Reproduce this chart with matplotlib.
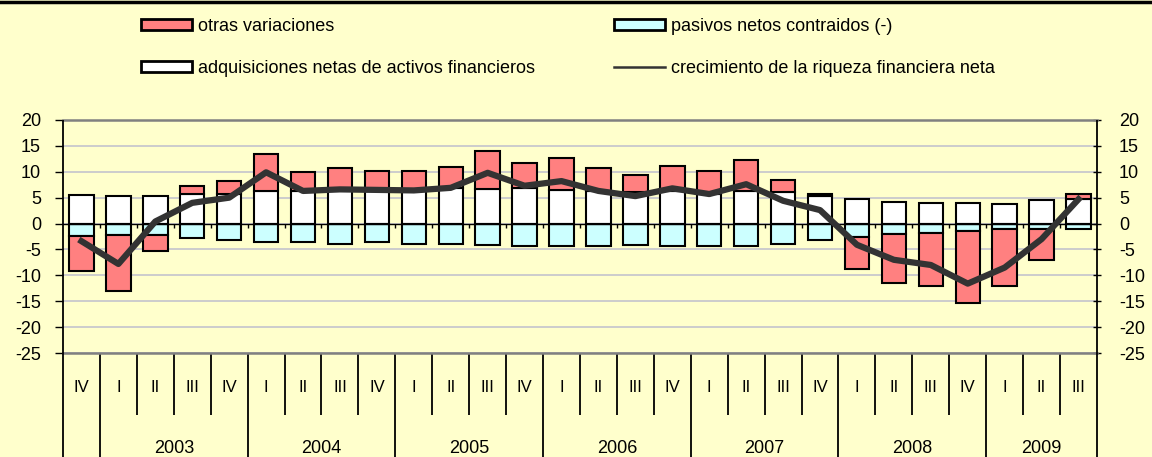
import numpy as np
import matplotlib
matplotlib.use('Agg')
import matplotlib.pyplot as plt
from matplotlib.patches import Patch
from matplotlib.lines import Line2D

plt.rcParams['font.family'] = ['Liberation Sans', 'DejaVu Sans']
plt.rcParams['axes.unicode_minus'] = False

# quarters 2002 IV .. 2009 III
quarters = ['IV'] + ['I', 'II', 'III', 'IV'] * 6 + ['I', 'II', 'III']
years = ['2003', '2004', '2005', '2006', '2007', '2008', '2009']

adquisiciones = [5.6, 5.4, 5.4, 5.8, 5.7, 6.2, 6.2, 6.4, 6.3, 6.3, 6.8, 6.6, 6.8, 6.4,
                 6.2, 6.0, 6.2, 5.8, 6.2, 6.0, 5.3, 4.7, 4.2, 3.9, 3.9, 3.7, 4.5, 4.7]
pasivos = [-2.4, -2.3, -2.3, -2.8, -3.1, -3.6, -3.6, -3.9, -3.6, -3.9, -4.0, -4.2, -4.35, -4.35,
           -4.35, -4.2, -4.35, -4.35, -4.35, -4.0, -3.25, -2.5, -2.1, -1.8, -1.4, -1.0, -1.0, -1.0]
otras = [-6.7, -10.8, -3.0, 1.5, 2.5, 7.3, 3.7, 4.3, 3.9, 3.9, 4.2, 7.4, 4.9, 6.3,
         4.5, 3.4, 5.0, 4.4, 6.0, 2.4, 0.5, -6.3, -9.3, -10.2, -13.9, -11.0, -6.1, 0.95]
crecimiento = [-3.4, -7.8, 0.4, 4.0, 5.0, 9.9, 6.3, 6.6, 6.5, 6.4, 6.9, 9.8, 7.3, 8.2,
               6.3, 5.3, 6.8, 5.7, 7.6, 4.4, 2.6, -4.1, -7.0, -8.0, -11.6, -8.5, -3.0, 4.7]

bg = '#FFFFCC'
red = '#FF8080'
cyan = '#CCFFFF'
dark = '#333333'

x = np.arange(len(quarters))
adq = np.array(adquisiciones)
pas = np.array(pasivos)
otr = np.array(otras)
# red stacks on top of white when positive, below cyan when negative
otr_base = np.where(otr >= 0, adq, pas)

fig = plt.figure(figsize=(11.52, 4.57), dpi=100, facecolor=bg)
ax = fig.add_axes([63/1152, 104/457, 1034/1152, 233/457], facecolor=bg)

bw = 0.66
ax.bar(x, adq, bw, color='white', edgecolor='black', lw=1.5, zorder=3)
ax.bar(x, pas, bw, color=cyan, edgecolor='black', lw=1.5, zorder=3)
ax.bar(x, otr, bw, bottom=otr_base, color=red, edgecolor='black', lw=1.5, zorder=3)
ax.plot(x, crecimiento, color=dark, lw=4.5, zorder=5, solid_joinstyle='round')

ax.set_xlim(-0.5, len(quarters) - 0.5)
ax.set_ylim(-25, 20)
ax.set_yticks(np.arange(-25, 21, 5))
ax.yaxis.grid(True, color='#C4C4CC', lw=1.2)
ax.set_axisbelow(True)
ax.set_xticks([])

ax.axhline(0, color='black', lw=1, zorder=4)
ax.vlines(x[:-1] + 0.5, -0.8, 0, color='black', lw=1, zorder=4)

for s in ['top', 'bottom']:
    ax.spines[s].set_color('#808080')
    ax.spines[s].set_linewidth(1.8)
for s in ['left', 'right']:
    ax.spines[s].set_visible(False)

# left ticks point out, right ticks cross the axis
ax.tick_params(axis='y', which='both', direction='inout', length=5.8, width=1,
               labelsize=13, pad=13, right=True, labelright=True, labelleft=True)
for t in ax.yaxis.get_major_ticks():
    t.tick1line.set_marker(matplotlib.lines.TICKLEFT)

# category separators below the plot area
tr = ax.get_xaxis_transform()
bounds = np.arange(len(quarters) + 1) - 0.5
edges = [bounds[0], bounds[-1]]
year_bounds = [b for b in bounds[1:-1] if quarters[int(b + 0.5)] == 'I']
quarter_bounds = [b for b in bounds[1:-1] if b not in year_bounds]
ax.vlines(edges, -0.45, 1, transform=tr, color='black', lw=1.3, clip_on=False, zorder=6)
ax.vlines(year_bounds, -0.45, 0, transform=tr, color='black', lw=1.3, clip_on=False)
ax.vlines(quarter_bounds, -0.266, 0, transform=tr, color='black', lw=1.3, clip_on=False)

for xi, q in zip(x, quarters):
    ax.text(xi, -0.15, q, transform=tr, ha='center', va='center', fontsize=12)
starts = [i for i, q in enumerate(quarters) if q == 'I']
for s0, yr in zip(starts, years):
    s1 = min(s0 + 4, len(quarters))
    ax.text((s0 + s1 - 1) / 2, -0.41, yr, transform=tr, ha='center', va='center', fontsize=13)

# legend
h_otras = Patch(facecolor=red, edgecolor='black', lw=2)
h_adq = Patch(facecolor='white', edgecolor='black', lw=2)
h_pas = Patch(facecolor=cyan, edgecolor='black', lw=2)
h_crec = Line2D([], [], color=dark, lw=1.8)
leg_kw = dict(loc='upper left', frameon=False, fontsize=13, borderpad=0, borderaxespad=0,
              handlelength=2.85, handleheight=0.55, handletextpad=0.3, labelspacing=1.38)
fig.legend([h_otras, h_adq], ['otras variaciones', 'adquisiciones netas de activos financieros'],
           bbox_to_anchor=(141/1152, 1 - 18/457), **leg_kw)
fig.legend([h_pas, h_crec], ['pasivos netos contraidos (-)', 'crecimiento de la riqueza financiera neta'],
           bbox_to_anchor=(614/1152, 1 - 18/457), **leg_kw)

fig.add_artist(Line2D([0, 1], [1 - 1.5/457, 1 - 1.5/457], transform=fig.transFigure,
                      color='black', lw=2.5))

fig.savefig('out.png', dpi=100, facecolor=bg)
